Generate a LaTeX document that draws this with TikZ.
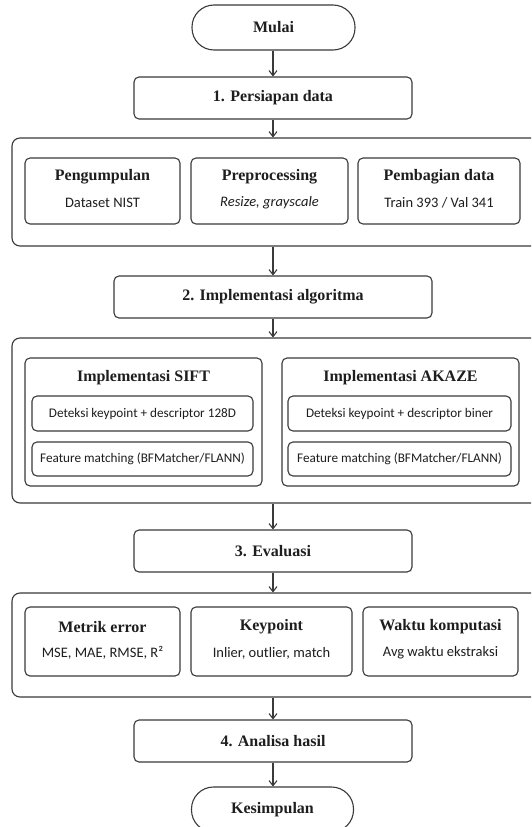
\documentclass[tikz,border=0pt]{standalone}
\usepackage{fontspec}
\setmainfont{Liberation Serif}
\newfontfamily\subf{Carlito}
\usetikzlibrary{arrows.meta}
\definecolor{ln}{HTML}{3A3A3A}
\definecolor{tx}{HTML}{1E1E1E}
\tikzset{
  box/.style={draw=ln, line width=1.1pt, rounded corners=5pt, inner sep=0pt, align=center, text=tx},
  term/.style={box, rounded corners=22pt},
  outer/.style={box, rounded corners=8pt},
  hdf/.style={font=\bfseries\fontsize{16}{19}\selectfont},
  hd/.style={text=tx, inner sep=0pt, hdf},
  sub/.style={text=tx, inner sep=0pt, font=\subf\fontsize{14.5}{17}\selectfont},
  sbf/.style={font=\subf\fontsize{13.2}{15}\selectfont},
  arr/.style={draw=ln, line width=1.1pt, -{Straight Barb[length=5pt,width=8pt,line width=1.1pt]}}
}
\begin{document}
\begin{tikzpicture}[x=1pt,y=-1pt]
\path[use as bounding box, clip] (0,0) rectangle (531,827);
\fill[white] (0,0) rectangle (531,827);
% start
\node[term, minimum width=163pt, minimum height=45pt, hdf] (start) at (273.5,27.5) {Mulai};
\node[box, minimum width=278pt, minimum height=42pt, hdf] (p1) at (273,98) {1. Persiapan data};
% container 1
\node[outer, minimum width=533pt, minimum height=108pt] (c1) at (278.5,192) {};
\node[box, minimum width=155pt, minimum height=66pt] (a1) at (102.5,191) {};
\node[box, minimum width=157pt, minimum height=66pt] (a2) at (269.5,191) {};
\node[box, minimum width=162pt, minimum height=66pt] (a3) at (439,191) {};
\node[hd] (a1t) at (102.5,177) {Pengumpulan};
\node[sub] (a1s) at (102.5,203) {Dataset NIST};
\node[hd] (a2t) at (269.5,177) {Preprocessing};
\node[sub] (a2s) at (269.5,203) {\itshape Resize, grayscale};
\node[hd] (a3t) at (439,177) {Pembagian data};
\node[sub] (a3s) at (439,203) {Train 393 / Val 341};
% step 2
\node[box, minimum width=318pt, minimum height=42pt, hdf] (p2) at (273,297) {2. Implementasi algoritma};
\node[outer, minimum width=533pt, minimum height=165pt] (c2) at (278.5,420.5) {};
\node[box, minimum width=237pt, minimum height=128pt] (b1) at (143.5,422) {};
\node[box, minimum width=237pt, minimum height=128pt] (b2) at (400.5,422) {};
\node[hd] (b1t) at (143.5,378) {Implementasi SIFT};
\node[hd] (b2t) at (400.5,378) {Implementasi AKAZE};
\node[box, minimum width=221pt, minimum height=35pt, sbf] (b1a) at (142.5,413.5) {Deteksi keypoint + descriptor 128D};
\node[box, minimum width=221pt, minimum height=34pt, sbf] (b1b) at (142.5,459) {Feature matching (BFMatcher/FLANN)};
\node[box, minimum width=223pt, minimum height=35pt, sbf] (b2a) at (399.5,413.5) {Deteksi keypoint + descriptor biner};
\node[box, minimum width=223pt, minimum height=34pt, sbf] (b2b) at (399.5,459) {Feature matching (BFMatcher/FLANN)};
% step 3
\node[box, minimum width=278pt, minimum height=42pt, hdf] (p3) at (273,551) {3. Evaluasi};
\node[outer, minimum width=533pt, minimum height=104pt] (c3) at (278.5,645) {};
\node[box, minimum width=155pt, minimum height=69pt] (d1) at (102.5,641.5) {};
\node[box, minimum width=161pt, minimum height=69pt] (d2) at (271.5,641.5) {};
\node[box, minimum width=155pt, minimum height=69pt] (d3) at (440.5,641.5) {};
\node[hd] (d1t) at (102.5,627) {Metrik error};
\node[sub] (d1s) at (102.5,653) {MSE, MAE, RMSE, R²};
\node[hd] (d2t) at (271.5,627) {Keypoint};
\node[sub] (d2s) at (271.5,653) {Inlier, outlier, match};
\node[hd] (d3t) at (440.5,627) {Waktu komputasi};
\node[sub] (d3s) at (440.5,653) {Avg waktu ekstraksi};
% step 4
\node[box, minimum width=278pt, minimum height=42pt, hdf] (p4) at (273,741) {4. Analisa hasil};
\node[term, minimum width=162pt, minimum height=45pt, hdf] (end) at (272.5,809.5) {Kesimpulan};
% arrows
\draw[arr] (start.south -| p1.north) -- (p1.north);
\draw[arr] (p1.south) -- (p1.south |- c1.north);
\draw[arr] (p1.south |- c1.south) -- (p2.north);
\draw[arr] (p2.south) -- (p2.south |- c2.north);
\draw[arr] (p2.south |- c2.south) -- (p3.north);
\draw[arr] (p3.south) -- (p3.south |- c3.north);
\draw[arr] (p3.south |- c3.south) -- (p4.north);
\draw[arr] (p4.south) -- (p4.south |- end.north);
\end{tikzpicture}
\end{document}
